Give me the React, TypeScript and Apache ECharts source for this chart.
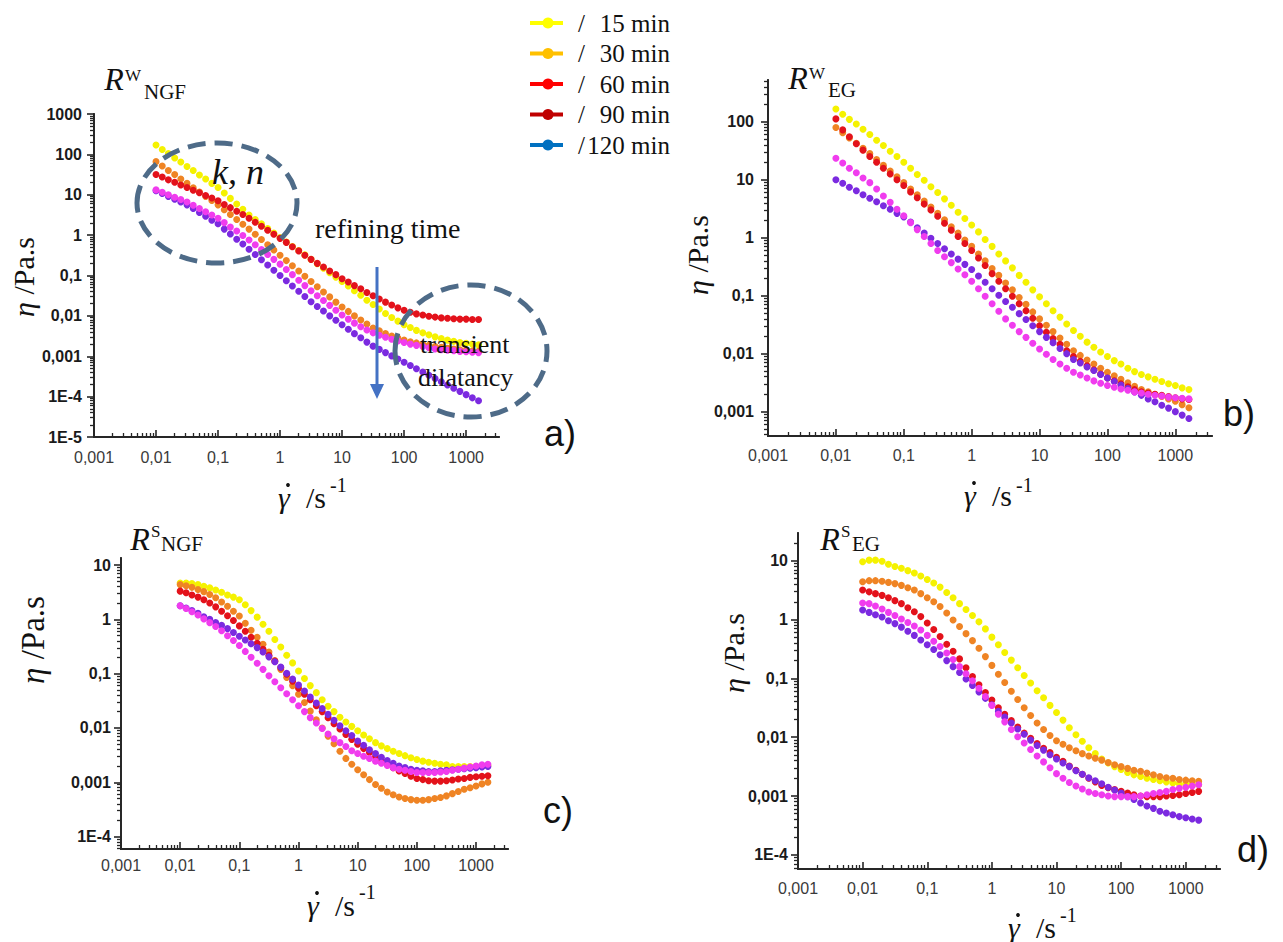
import React, { useEffect, useRef } from 'react';
import * as echarts from 'echarts';

// shear rate (s^-1), shared by all four panels
const shearRate = [
  0.01, 0.0126, 0.0158, 0.02, 0.0251, 0.0316, 0.0398, 0.0501, 0.0631, 0.0794,
  0.1, 0.126, 0.158, 0.2, 0.251, 0.316, 0.398, 0.501, 0.631, 0.794,
  1, 1.26, 1.58, 2, 2.51, 3.16, 3.98, 5.01, 6.31, 7.94,
  10, 12.6, 15.8, 20, 25.1, 31.6, 39.8, 50.1, 63.1, 79.4,
  100, 126, 158, 200, 251, 316, 398, 501, 631, 794,
  1000, 1259, 1585,
];

// a) R^W_NGF viscosity (Pa.s)
const aYellow = [170, 132, 105, 81.3, 64.6, 50.1, 39.8, 30.9, 24.5, 19.1,
  15.1, 11.0, 8.13, 5.89, 4.37, 3.16, 2.45, 1.91, 1.45, 1.12,
  0.871, 0.676, 0.525, 0.417, 0.324, 0.251, 0.195, 0.151, 0.117, 0.0912,
  0.0708, 0.0550, 0.0417, 0.0324, 0.0245, 0.0191, 0.0148, 0.0115, 0.00912, 0.00741,
  0.00603, 0.00513, 0.00437, 0.00380, 0.00339, 0.00302, 0.00275, 0.00251, 0.00234, 0.00219,
  0.00209, 0.00200, 0.00191];
const aOrange = [66.1, 51.3, 39.8, 31.6, 24.5, 19.1, 14.8, 11.7, 9.12, 7.24,
  5.62, 4.27, 3.24, 2.45, 1.86, 1.41, 1.05, 0.776, 0.575, 0.427,
  0.316, 0.234, 0.174, 0.129, 0.0955, 0.0708, 0.0525, 0.0389, 0.0295, 0.0219,
  0.0166, 0.0129, 0.0100, 0.00794, 0.00631, 0.00501, 0.00427, 0.00363, 0.00316, 0.00282,
  0.00251, 0.00229, 0.00214, 0.00200, 0.00186, 0.00174, 0.00166, 0.00158, 0.00151, 0.00145,
  0.00141, 0.00135, 0.00132];
const aRed = [31.6, 27.5, 23.4, 20.4, 17.4, 15.1, 12.9, 11.2, 9.55, 8.32,
  7.08, 5.75, 4.79, 3.89, 3.24, 2.63, 2.09, 1.66, 1.32, 1.05,
  0.832, 0.661, 0.513, 0.407, 0.316, 0.251, 0.200, 0.162, 0.129, 0.105,
  0.0832, 0.0692, 0.0562, 0.0468, 0.0380, 0.0316, 0.0263, 0.0219, 0.0186, 0.0158,
  0.0138, 0.0123, 0.0112, 0.0105, 0.00977, 0.00933, 0.00891, 0.00871, 0.00851, 0.00832,
  0.00832, 0.00813, 0.00813];
const aMagenta = [13.2, 11.5, 10.0, 8.71, 7.59, 6.61, 5.50, 4.57, 3.80, 3.16,
  2.63, 2.04, 1.58, 1.26, 0.977, 0.759, 0.575, 0.437, 0.331, 0.251,
  0.191, 0.141, 0.105, 0.0759, 0.0562, 0.0417, 0.0316, 0.0240, 0.0182, 0.0138,
  0.0105, 0.00832, 0.00661, 0.00537, 0.00447, 0.00380, 0.00331, 0.00295, 0.00263, 0.00240,
  0.00219, 0.00200, 0.00186, 0.00174, 0.00162, 0.00151, 0.00145, 0.00141, 0.00138, 0.00132,
  0.00129, 0.00126, 0.00123];
const aPurple = [12.6, 10.7, 9.12, 7.76, 6.61, 5.62, 4.57, 3.63, 2.95, 2.34,
  1.91, 1.41, 1.07, 0.794, 0.603, 0.447, 0.331, 0.245, 0.182, 0.135,
  0.100, 0.0741, 0.0550, 0.0407, 0.0302, 0.0224, 0.0170, 0.0132, 0.0100, 0.00776,
  0.00603, 0.00468, 0.00363, 0.00288, 0.00224, 0.00178, 0.00148, 0.00123, 0.00102, 0.000851,
  0.000708, 0.000589, 0.000490, 0.000407, 0.000339, 0.000282, 0.000234, 0.000195, 0.000162, 0.000135,
  0.000112, 0.0000933, 0.0000794];

// b) R^W_EG
const bYellow = [166, 135, 110, 91.2, 74.1, 60.3, 47.9, 38.9, 30.9, 25.1,
  20.0, 15.8, 12.3, 9.77, 7.59, 6.03, 4.68, 3.63, 2.75, 2.14,
  1.66, 1.26, 0.933, 0.708, 0.525, 0.398, 0.302, 0.224, 0.170, 0.126,
  0.0955, 0.0724, 0.0550, 0.0427, 0.0324, 0.0251, 0.0200, 0.0158, 0.0129, 0.0107,
  0.00891, 0.00759, 0.00661, 0.00562, 0.00490, 0.00437, 0.00398, 0.00363, 0.00331, 0.00302,
  0.00282, 0.00257, 0.00240];
const bOrange = [79.4, 64.6, 52.5, 42.7, 34.7, 28.2, 22.4, 17.8, 14.1, 11.2,
  8.91, 6.92, 5.50, 4.27, 3.39, 2.63, 2.04, 1.55, 1.20, 0.912,
  0.708, 0.525, 0.398, 0.295, 0.224, 0.166, 0.126, 0.0933, 0.0708, 0.0525,
  0.0398, 0.0309, 0.0240, 0.0186, 0.0145, 0.0112, 0.00933, 0.00776, 0.00661, 0.00562,
  0.00479, 0.00417, 0.00363, 0.00316, 0.00275, 0.00240, 0.00219, 0.00200, 0.00182, 0.00166,
  0.00151, 0.00132, 0.00117];
const bRed = [112, 72.4, 55.0, 41.7, 32.4, 25.1, 20.0, 15.8, 12.6, 10.0,
  7.94, 6.17, 4.90, 3.80, 3.02, 2.34, 1.78, 1.35, 1.05, 0.794,
  0.603, 0.447, 0.331, 0.240, 0.178, 0.132, 0.0977, 0.0724, 0.0550, 0.0407,
  0.0302, 0.0234, 0.0182, 0.0145, 0.0112, 0.00891, 0.00741, 0.00617, 0.00525, 0.00447,
  0.00380, 0.00339, 0.00302, 0.00269, 0.00240, 0.00219, 0.00209, 0.00200, 0.00191, 0.00182,
  0.00174, 0.00166, 0.00162];
const bMagenta = [23.4, 19.5, 15.8, 13.2, 10.7, 8.91, 6.92, 5.25, 4.07, 3.09,
  2.40, 1.82, 1.38, 1.05, 0.794, 0.603, 0.468, 0.372, 0.288, 0.229,
  0.178, 0.132, 0.0977, 0.0724, 0.0537, 0.0398, 0.0309, 0.0240, 0.0191, 0.0151,
  0.0120, 0.00977, 0.00794, 0.00661, 0.00562, 0.00479, 0.00427, 0.00380, 0.00339, 0.00309,
  0.00282, 0.00263, 0.00245, 0.00234, 0.00219, 0.00209, 0.00200, 0.00191, 0.00186, 0.00178,
  0.00174, 0.00170, 0.00166];
const bPurple = [10.0, 8.71, 7.41, 6.46, 5.50, 4.79, 4.17, 3.55, 3.09, 2.63,
  2.29, 1.86, 1.48, 1.20, 0.977, 0.794, 0.646, 0.525, 0.427, 0.347,
  0.282, 0.219, 0.170, 0.132, 0.102, 0.0794, 0.0631, 0.0490, 0.0389, 0.0302,
  0.0240, 0.0191, 0.0155, 0.0123, 0.0100, 0.00794, 0.00692, 0.00589, 0.00513, 0.00437,
  0.00380, 0.00331, 0.00288, 0.00251, 0.00219, 0.00191, 0.00166, 0.00148, 0.00129, 0.00115,
  0.00100, 0.000871, 0.000759];

// c) R^S_NGF
const cYellow = [4.68, 4.68, 4.57, 4.37, 4.07, 3.80, 3.47, 3.16, 2.82, 2.57,
  2.29, 1.86, 1.45, 1.10, 0.813, 0.603, 0.427, 0.309, 0.219, 0.158,
  0.112, 0.0813, 0.0603, 0.0447, 0.0331, 0.0251, 0.0200, 0.0158, 0.0129, 0.0107,
  0.00891, 0.00741, 0.00631, 0.00537, 0.00468, 0.00417, 0.00372, 0.00339, 0.00309, 0.00282,
  0.00263, 0.00245, 0.00234, 0.00224, 0.00214, 0.00209, 0.00195, 0.00195, 0.00195, 0.00195,
  0.00195, 0.00200, 0.00204];
const cOrange = [4.37, 4.17, 3.89, 3.55, 3.24, 2.88, 2.51, 2.09, 1.74, 1.41,
  1.15, 0.851, 0.631, 0.468, 0.347, 0.251, 0.174, 0.120, 0.0851, 0.0603,
  0.0417, 0.0295, 0.0204, 0.0141, 0.0100, 0.00708, 0.00513, 0.00372, 0.00275, 0.00214,
  0.00170, 0.00138, 0.00112, 0.000912, 0.000776, 0.000661, 0.000589, 0.000537, 0.000501, 0.000479,
  0.000468, 0.000468, 0.000479, 0.000501, 0.000525, 0.000562, 0.000617, 0.000676, 0.000741, 0.000794,
  0.000851, 0.000933, 0.00100];
const cRed = [3.31, 3.09, 2.82, 2.57, 2.29, 2.00, 1.70, 1.41, 1.17, 0.955,
  0.759, 0.603, 0.468, 0.363, 0.282, 0.219, 0.170, 0.129, 0.0977, 0.0724,
  0.0537, 0.0417, 0.0331, 0.0257, 0.0200, 0.0155, 0.0120, 0.00955, 0.00759, 0.00617,
  0.00501, 0.00417, 0.00355, 0.00295, 0.00251, 0.00214, 0.00186, 0.00162, 0.00145, 0.00129,
  0.00117, 0.00112, 0.00107, 0.00105, 0.00105, 0.00107, 0.00110, 0.00115, 0.00117, 0.00123,
  0.00126, 0.00129, 0.00132];
const cMagenta = [1.78, 1.58, 1.38, 1.20, 1.02, 0.871, 0.741, 0.617, 0.501, 0.407,
  0.331, 0.257, 0.200, 0.155, 0.120, 0.0912, 0.0708, 0.0550, 0.0427, 0.0331,
  0.0257, 0.0200, 0.0155, 0.0123, 0.00977, 0.00776, 0.00631, 0.00537, 0.00457, 0.00380,
  0.00339, 0.00302, 0.00275, 0.00245, 0.00224, 0.00204, 0.00186, 0.00174, 0.00166, 0.00158,
  0.00151, 0.00151, 0.00151, 0.00151, 0.00155, 0.00158, 0.00166, 0.00174, 0.00182, 0.00191,
  0.00200, 0.00209, 0.00214];
const cPurple = [1.78, 1.62, 1.45, 1.29, 1.12, 1.00, 0.871, 0.776, 0.676, 0.575,
  0.490, 0.417, 0.355, 0.302, 0.251, 0.204, 0.166, 0.132, 0.102, 0.0794,
  0.0617, 0.0479, 0.0372, 0.0288, 0.0229, 0.0178, 0.0138, 0.0110, 0.00891, 0.00724,
  0.00575, 0.00479, 0.00398, 0.00339, 0.00288, 0.00251, 0.00224, 0.00200, 0.00186, 0.00174,
  0.00166, 0.00162, 0.00158, 0.00158, 0.00162, 0.00166, 0.00170, 0.00174, 0.00178, 0.00182,
  0.00186, 0.00191, 0.00195];

// d) R^S_EG
const dYellow = [9.55, 10.2, 10.2, 9.77, 8.71, 7.94, 7.41, 6.76, 6.17, 5.50,
  4.79, 4.17, 3.55, 2.88, 2.34, 1.86, 1.48, 1.17, 0.912, 0.692,
  0.501, 0.372, 0.275, 0.204, 0.151, 0.112, 0.0832, 0.0617, 0.0468, 0.0347,
  0.0263, 0.0195, 0.0145, 0.0110, 0.00851, 0.00661, 0.00525, 0.00427, 0.00363, 0.00316,
  0.00282, 0.00251, 0.00229, 0.00214, 0.00200, 0.00191, 0.00182, 0.00174, 0.00166, 0.00162,
  0.00158, 0.00155, 0.00155];
const dOrange = [4.37, 4.57, 4.57, 4.47, 4.27, 4.07, 3.80, 3.47, 3.16, 2.75,
  2.34, 2.00, 1.66, 1.29, 0.977, 0.759, 0.575, 0.437, 0.324, 0.234,
  0.166, 0.117, 0.0851, 0.0603, 0.0437, 0.0316, 0.0234, 0.0174, 0.0135, 0.0107,
  0.00871, 0.00759, 0.00661, 0.00589, 0.00525, 0.00479, 0.00437, 0.00407, 0.00372, 0.00339,
  0.00316, 0.00295, 0.00275, 0.00263, 0.00245, 0.00229, 0.00214, 0.00204, 0.00200, 0.00191,
  0.00186, 0.00182, 0.00178];
const dRed = [3.16, 2.95, 2.75, 2.57, 2.34, 2.09, 1.86, 1.58, 1.35, 1.12,
  0.871, 0.676, 0.513, 0.380, 0.288, 0.214, 0.151, 0.107, 0.0776, 0.0575,
  0.0427, 0.0316, 0.0245, 0.0191, 0.0148, 0.0117, 0.00955, 0.00776, 0.00646, 0.00550,
  0.00457, 0.00389, 0.00324, 0.00275, 0.00234, 0.00200, 0.00174, 0.00151, 0.00138, 0.00129,
  0.00120, 0.00112, 0.00105, 0.00100, 0.000977, 0.000977, 0.000977, 0.00100, 0.00102, 0.00105,
  0.00110, 0.00115, 0.00120];
const dMagenta = [1.91, 1.86, 1.70, 1.51, 1.32, 1.17, 1.02, 0.891, 0.776, 0.661,
  0.537, 0.427, 0.347, 0.269, 0.209, 0.158, 0.120, 0.0912, 0.0676, 0.0490,
  0.0347, 0.0245, 0.0182, 0.0135, 0.0102, 0.00794, 0.00617, 0.00479, 0.00380, 0.00302,
  0.00240, 0.00200, 0.00170, 0.00148, 0.00132, 0.00117, 0.00110, 0.00105, 0.00100, 0.000977,
  0.000977, 0.000977, 0.000977, 0.00100, 0.00105, 0.00110, 0.00115, 0.00120, 0.00129, 0.00135,
  0.00141, 0.00148, 0.00155];
const dPurple = [1.45, 1.32, 1.20, 1.10, 0.955, 0.851, 0.741, 0.631, 0.537, 0.447,
  0.372, 0.309, 0.251, 0.200, 0.158, 0.126, 0.0977, 0.0759, 0.0589, 0.0457,
  0.0355, 0.0275, 0.0219, 0.0174, 0.0138, 0.0112, 0.00891, 0.00724, 0.00603, 0.00501,
  0.00427, 0.00363, 0.00316, 0.00269, 0.00234, 0.00204, 0.00182, 0.00162, 0.00141, 0.00126,
  0.00112, 0.000977, 0.000871, 0.000759, 0.000676, 0.000617, 0.000550, 0.000513, 0.000479, 0.000447,
  0.000427, 0.000407, 0.000389];

// tick values and labels
const decadeValues = [1e-5, 1e-4, 0.001, 0.01, 0.1, 1, 10, 100, 1000];
const decadeLabels = ['1E-5', '1E-4', '0,001', '0,01', '0,1', '1', '10', '100', '1000'];
const xTickValues = [0.001, 0.01, 0.1, 1, 10, 100, 1000];
const yTicksA = [1e-5, 1e-4, 0.001, 0.01, 0.1, 1, 10, 100, 1000];
const yTicksB = [0.001, 0.01, 0.1, 1, 10, 100];
const yTicksCD = [1e-4, 0.001, 0.01, 0.1, 1, 10];
const minorMultipliers = [2, 3, 4, 5, 6, 7, 8, 9];
const minorBase = [1e-6, 1e-5, 1e-4, 0.001, 0.01, 0.1, 1, 10, 100, 1000];

// series / legend
const seriesNames = ['15 min', '30 min', '60 min', '90 min', '120 min'];
const legendSlash = ['/', '/', '/', '/', '/'];
const legendLabels = ['15 min', '30 min', '60 min', '90 min', '120 min'];

const SERIF = '"Liberation Serif", "Times New Roman", Times, serif';
const SANS = '"Liberation Sans", Arial, Helvetica, sans-serif';
const seriesColors = ['#f5f200', '#ef8424', '#e3121b', '#f03cee', '#7b2ae0'];
const legendColors = ['#ffff00', '#ffc000', '#ff0000', '#c00000', '#0070c0'];
const drawOrder = [0, 1, 2, 4, 3];

const panels = [
  { grid: { left: 94, top: 114, width: 405, height: 323 }, xMax: 3388, yMin: 1e-5, yMax: 1000, yTicks: yTicksA, xMargin: 12, yMargin: 12, curves: [aYellow, aOrange, aRed, aMagenta, aPurple] },
  { grid: { left: 768, top: 80, width: 444, height: 356 }, xMax: 3467, yMin: 0.00038, yMax: 525, yTicks: yTicksB, xMargin: 11, yMargin: 14, curves: [bYellow, bOrange, bRed, bMagenta, bPurple] },
  { grid: { left: 121, top: 558, width: 387, height: 291 }, xMax: 3467, yMin: 5.9e-5, yMax: 13.5, yTicks: yTicksCD, xMargin: 8, yMargin: 10, curves: [cYellow, cOrange, cRed, cMagenta, cPurple] },
  { grid: { left: 798, top: 533, width: 422, height: 336 }, xMax: 3388, yMin: 5.75e-5, yMax: 29.5, yTicks: yTicksCD, xMargin: 11, yMargin: 10, curves: [dYellow, dOrange, dRed, dMagenta, dPurple] },
];

const fmtDecade = (v: number) => {
  const e = Math.round(Math.log10(v));
  for (let i = 0; i < decadeValues.length; i++) {
    if (Math.round(Math.log10(decadeValues[i])) === e) return decadeLabels[i];
  }
  return '';
};

const minorValues = (min: number, max: number) => {
  const out: number[] = [];
  minorBase.forEach((b) => minorMultipliers.forEach((m) => {
    const v = +(b * m).toPrecision(6);
    if (v > min && v < max) out.push(v);
  }));
  return out;
};

const axisColor = '#262626';

function text(t: string, x: number, y: number, size: number, opts: any = {}) {
  return {
    type: 'text',
    x,
    y,
    z: 100,
    rotation: opts.rotation || 0,
    style: {
      text: t,
      fill: opts.fill || '#111',
      fontSize: size,
      fontFamily: opts.family || SERIF,
      fontStyle: opts.italic ? 'italic' : 'normal',
      fontWeight: opts.bold ? 'bold' : 'normal',
      textAlign: opts.align || 'left',
      textVerticalAlign: 'middle',
      verticalAlign: 'middle',
      rich: opts.rich,
    },
  };
}

function buildOption() {
  const grid: any[] = [];
  const xAxis: any[] = [];
  const yAxis: any[] = [];
  const series: any[] = [];

  panels.forEach((p, gi) => {
    grid.push({ ...p.grid, containLabel: false });
    xAxis.push({
      type: 'log',
      logBase: 10,
      gridIndex: gi,
      position: 'bottom',
      min: 0.001,
      max: p.xMax,
      axisLine: { show: true, onZero: false, lineStyle: { color: axisColor, width: 1.8 } },
      axisTick: { show: true, inside: true, length: 7, customValues: xTickValues, lineStyle: { color: axisColor, width: 1.6 } },
      minorTick: { show: false },
      axisLabel: { customValues: xTickValues, formatter: fmtDecade, margin: p.xMargin, fontSize: 16, color: '#3a3a3a', fontFamily: SANS },
      splitLine: { show: false },
      minorSplitLine: { show: false },
    });
    yAxis.push({
      type: 'log',
      logBase: 10,
      gridIndex: gi,
      position: 'left',
      min: p.yMin,
      max: p.yMax,
      axisLine: { show: true, onZero: false, lineStyle: { color: axisColor, width: 1.8 } },
      axisTick: { show: true, inside: false, length: 7, customValues: p.yTicks, lineStyle: { color: axisColor, width: 1.6 } },
      minorTick: { show: false },
      axisLabel: { customValues: p.yTicks, formatter: fmtDecade, margin: p.yMargin, fontSize: 16, fontWeight: 'bold', color: '#1a1a1a', fontFamily: SANS },
      splitLine: { show: false },
      minorSplitLine: { show: false },
    });
    drawOrder.forEach((ci, k) => {
      const ys = p.curves[ci];
      series.push({
        type: 'scatter',
        name: seriesNames[ci],
        xAxisIndex: gi,
        yAxisIndex: gi,
        symbol: 'circle',
        symbolSize: 7,
        z: 2 + k,
        silent: true,
        itemStyle: { color: seriesColors[ci], opacity: 1 },
        data: shearRate.map((x, i) => [x, ys[i]]),
      });
    });
  });

  // overlay axes that only carry the minor (2..9) log ticks
  panels.forEach((p, gi) => {
    xAxis.push({
      type: 'log',
      logBase: 10,
      gridIndex: gi,
      position: 'bottom',
      offset: 0,
      min: 0.001,
      max: p.xMax,
      axisLine: { show: true, onZero: false, lineStyle: { color: axisColor, width: 1.8 } },
      axisTick: { show: true, inside: true, length: 4, customValues: minorValues(0.001, p.xMax), lineStyle: { color: axisColor, width: 1.3 } },
      axisLabel: { show: false },
      splitLine: { show: false },
    });
    yAxis.push({
      type: 'log',
      logBase: 10,
      gridIndex: gi,
      position: 'left',
      offset: 0,
      min: p.yMin,
      max: p.yMax,
      axisLine: { show: true, onZero: false, lineStyle: { color: axisColor, width: 1.8 } },
      axisTick: { show: true, inside: false, length: 4, customValues: minorValues(p.yMin, p.yMax), lineStyle: { color: axisColor, width: 1.3 } },
      axisLabel: { show: false },
      splitLine: { show: false },
    });
  });

  const g: any[] = [];
  // legend
  legendLabels.forEach((lab, i) => {
    const y = 23 + i * 30.5;
    g.push({ type: 'line', z: 100, shape: { x1: 530, y1: y, x2: 563, y2: y }, style: { stroke: legendColors[i], lineWidth: 4 } });
    g.push({ type: 'circle', z: 101, shape: { cx: 548, cy: y, r: 5.5 }, style: { fill: legendColors[i] } });
    g.push(text(legendSlash[i], 578, y, 25));
    g.push(text(lab, 670, y, 25, { align: 'right' }));
  });

  // panel titles
  const titles = [
    { x: 114, y: 79, sup: 'W', supX: 125, supY: 75, sub: 'NGF', subX: 144, subY: 92 },
    { x: 798, y: 78, sup: 'W', supX: 809, supY: 73, sub: 'EG', subX: 828, subY: 90 },
    { x: 140, y: 539, sup: 'S', supX: 151, supY: 531, sub: 'NGF', subX: 161, subY: 544 },
    { x: 830, y: 539, sup: 'S', supX: 841, supY: 531, sub: 'EG', subX: 852, subY: 544 },
  ];
  titles.forEach((t) => {
    g.push(text('R', t.x, t.y, 32, { italic: true, align: 'center' }));
    g.push(text(t.sup, t.supX, t.supY, 17));
    g.push(text(t.sub, t.subX, t.subY, 21));
  });

  // y axis titles
  const yTitles = [
    { x: 23, y: 277, size: 30 },
    { x: 697, y: 255, size: 30 },
    { x: 33, y: 640, size: 33 },
    { x: 733, y: 653, size: 30 },
  ];
  yTitles.forEach((t) => {
    g.push(text('{i|η} /Pa.s', t.x, t.y, t.size, {
      rotation: Math.PI / 2,
      align: 'center',
      rich: { i: { fontStyle: 'italic', fontSize: t.size, fontFamily: SERIF } },
    }));
  });

  // x axis titles: gamma with an overdot, "/s" and superscript "-1"
  const xTitles = [
    { x: 278, y: 497, sy: 485 },
    { x: 964, y: 495, sy: 485 },
    { x: 307, y: 905, sy: 892 },
    { x: 1008, y: 927, sy: 915 },
  ];
  xTitles.forEach((t) => {
    g.push(text('γ', t.x, t.y, 30, { italic: true }));
    g.push({ type: 'circle', z: 100, shape: { cx: t.x + 10, cy: t.y - 12, r: 1.9 }, style: { fill: '#111' } });
    g.push(text('/s', t.x + 28, t.y, 30));
    g.push(text('-1', t.x + 52, t.sy, 20));
  });

  // panel letters
  const letters = [
    { t: 'a)', x: 560, y: 433 },
    { t: 'b)', x: 1239, y: 413 },
    { t: 'c)', x: 558, y: 810 },
    { t: 'd)', x: 1253, y: 849 },
  ];
  letters.forEach((l) => g.push(text(l.t, l.x, l.y, 36, { family: SANS, align: 'center' })));

  // annotations in panel a
  const dashStyle = { fill: 'none', stroke: '#4e6b88', lineWidth: 5, lineDash: [18, 9] };
  g.push({ type: 'ellipse', z: 90, shape: { cx: 217, cy: 203, rx: 80, ry: 60 }, style: dashStyle });
  g.push({ type: 'ellipse', z: 90, shape: { cx: 471, cy: 351, rx: 76, ry: 66 }, style: dashStyle });
  g.push(text('k, n', 238, 172, 36, { italic: true, align: 'center' }));
  g.push(text('refining time', 315, 228, 28));
  g.push(text('transient', 420, 344, 26));
  g.push(text('dilatancy', 418, 377, 26));
  g.push({ type: 'line', z: 95, shape: { x1: 377, y1: 267, x2: 377, y2: 388 }, style: { stroke: '#4472c4', lineWidth: 3 } });
  g.push({ type: 'polygon', z: 95, shape: { points: [[370, 384], [384, 384], [377, 399]] }, style: { fill: '#4472c4' } });

  return {
    animation: false,
    backgroundColor: '#ffffff',
    grid,
    xAxis,
    yAxis,
    series,
    graphic: { elements: g },
  };
}

export default function App() {
  const ref = useRef<HTMLDivElement>(null);
  useEffect(() => {
    if (!ref.current) return;
    const chart = echarts.init(ref.current, null, { renderer: 'svg', width: 1283, height: 942 });
    chart.setOption(buildOption() as any);
    return () => {
      chart.dispose();
    };
  }, []);
  return (
    <div
      ref={ref}
      style={{ position: 'absolute', left: 0, top: 0, width: 1283, height: 942, background: '#fff' }}
    />
  );
}
